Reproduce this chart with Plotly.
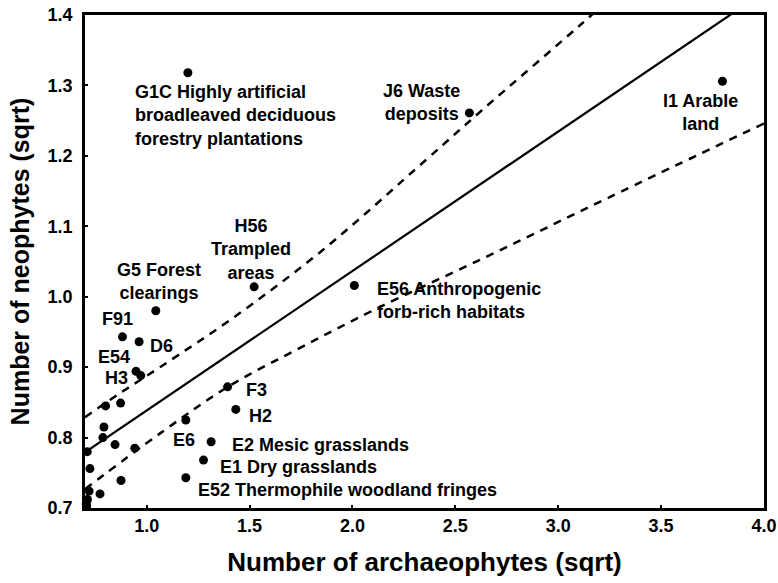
import plotly.graph_objects as go

# Habitat points (sqrt archaeophytes, sqrt neophytes)
arch = [1.200, 2.568, 3.798, 1.522, 2.009, 1.044, 0.882, 0.963, 0.948, 0.971,
        1.393, 1.433, 0.873, 0.800, 1.190, 0.792, 0.787, 1.313, 0.846, 0.942,
        0.711, 1.276, 0.724, 1.190, 0.875, 0.773, 0.720, 0.712, 0.706, 0.708]
neo = [1.318, 1.261, 1.306, 1.014, 1.016, 0.980, 0.943, 0.936, 0.894, 0.888,
       0.872, 0.840, 0.849, 0.845, 0.825, 0.815, 0.800, 0.794, 0.790, 0.785,
       0.780, 0.768, 0.756, 0.743, 0.739, 0.720, 0.724, 0.712, 0.706, 0.703]

# Regression line and confidence band
fit_x = [0.70, 3.84]
fit_y = [0.779, 1.401]
upper_x = [0.70, 0.87, 1.07, 1.41, 1.85, 2.36, 2.63, 3.10, 3.20]
upper_y = [0.829, 0.863, 0.901, 0.968, 1.065, 1.195, 1.265, 1.384, 1.410]
lower_x = [0.70, 1.07, 1.40, 1.75, 2.11, 2.66, 3.24, 4.00]
lower_y = [0.727, 0.807, 0.873, 0.928, 0.982, 1.058, 1.140, 1.246]

# Point labels: text, x, y, anchor
label_text = ["G1C Highly artificial<br>broadleaved deciduous<br>forestry plantations",
              "J6 Waste<br>deposits", "I1 Arable<br>land", "H56<br>Trampled<br>areas",
              "G5 Forest<br>clearings", "F91", "D6", "E54", "H3",
              "E56 Anthropogenic<br>forb-rich habitats", "F3", "H2", "E6",
              "E2 Mesic grasslands", "E1 Dry grasslands",
              "E52 Thermophile woodland fringes"]
label_x = [0.932, 2.334, 3.692, 1.506, 1.058, 0.859, 1.006, 0.839, 0.854,
           2.107, 1.471, 1.487, 1.117, 1.406, 1.344, 1.239]
label_y = [1.257, 1.276, 1.262, 1.067, 1.021, 0.969, 0.930, 0.914, 0.885,
           0.995, 0.867, 0.831, 0.796, 0.790, 0.758, 0.725]
label_anchor = ["left", "center", "center", "center", "center", "center", "left",
                "center", "center", "left", "left", "left", "left", "left",
                "left", "left"]

x_ticks = [1.0, 1.5, 2.0, 2.5, 3.0, 3.5, 4.0]
y_ticks = [0.7, 0.8, 0.9, 1.0, 1.1, 1.2, 1.3, 1.4]

FONT = "Liberation Sans, Arial, Helvetica, sans-serif"

fig = go.Figure()
fig.add_trace(go.Scatter(x=upper_x, y=upper_y, mode="lines", line_shape="spline",
                         line=dict(color="black", width=2.5, dash="8px,7px"),
                         showlegend=False, hoverinfo="skip"))
fig.add_trace(go.Scatter(x=lower_x, y=lower_y, mode="lines", line_shape="spline",
                         line=dict(color="black", width=2.5, dash="8px,7px"),
                         showlegend=False, hoverinfo="skip"))
fig.add_trace(go.Scatter(x=fit_x, y=fit_y, mode="lines",
                         line=dict(color="black", width=2.2),
                         showlegend=False, hoverinfo="skip"))
fig.add_trace(go.Scatter(x=arch, y=neo, mode="markers", cliponaxis=False,
                         marker=dict(color="black", size=9),
                         showlegend=False))

for t, x, y, a in zip(label_text, label_x, label_y, label_anchor):
    fig.add_annotation(x=x, y=y, xref="x", yref="y", text=t, showarrow=False,
                       xanchor=a, yanchor="middle", align=a,
                       font=dict(family=FONT, size=18, color="black", weight="bold"))

axis_common = dict(showline=True, linecolor="black", linewidth=2.5, mirror=True,
                   showgrid=False, zeroline=False, ticks="inside", ticklen=3,
                   tickwidth=2, tickcolor="black", automargin=False,
                   ticklabeloverflow="allow",
                   tickfont=dict(family=FONT, size=18, color="black", weight="bold"))

fig.update_xaxes(range=[0.7, 4.0], tickvals=x_ticks, tickformat=".1f",
                 title=dict(text="Number of archaeophytes (sqrt)", standoff=18,
                            font=dict(family=FONT, size=26, color="black", weight="bold")),
                 **axis_common)
fig.update_yaxes(range=[0.7, 1.4], tickvals=y_ticks, tickformat=".1f",
                 ticklabelstandoff=6,
                 title=dict(text="Number of neophytes (sqrt)", standoff=11,
                            font=dict(family=FONT, size=25, color="black", weight="bold")),
                 **axis_common)

fig.update_layout(width=778, height=583, margin=dict(l=85, r=14, t=15, b=75),
                  plot_bgcolor="white", paper_bgcolor="white")

fig.write_html("out.html", config={"displayModeBar": False},
               post_script="document.body.style.margin='0';document.body.style.overflow='hidden';")
